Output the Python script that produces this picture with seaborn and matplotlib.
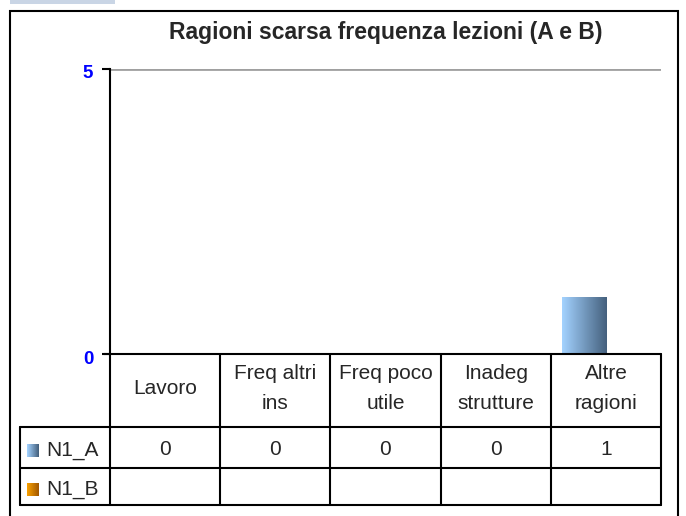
import numpy as np
import pandas as pd
import matplotlib
matplotlib.use("Agg")
import matplotlib.pyplot as plt
import matplotlib.transforms as mtrans
import seaborn as sns
from matplotlib.lines import Line2D
from matplotlib.patches import Rectangle

categories = ["Lavoro", "Freq altri\nins", "Freq poco\nutile", "Inadeg\nstrutture", "Altre\nragioni"]
series = ["N1_A", "N1_B"]
n1_a = [0, 0, 0, 0, 1]
n1_b = [None, None, None, None, None]
title = "Ragioni scarsa frequenza lezioni (A e B)"

grad_a = ["#a3d2ff", "#45617e"]
grad_b = ["#f7a000", "#a35800"]

sns.set_theme(style="white")
plt.rcParams["font.family"] = ["Liberation Sans", "DejaVu Sans"]

W, H = 686, 516
fig = plt.figure(figsize=(W / 100, H / 100), dpi=100)

# pixel helpers (top-left origin)
def fx(x):
    return x / W

def fy(y):
    return 1 - y / H

x0, x1 = 110, 661
y_top, y_zero = 69, 354
ax = fig.add_axes([fx(x0), fy(y_zero), fx(x1) - fx(x0), fy(y_top) - fy(y_zero)])

df = pd.DataFrame({
    "cat": categories * 2,
    "serie": ["N1_A"] * 5 + ["N1_B"] * 5,
    "val": [v for v in n1_a] + [np.nan if v is None else v for v in n1_b],
})
sns.barplot(data=df, x="cat", y="val", hue="serie", hue_order=series,
            order=categories, palette=[grad_a[0], grad_b[0]], width=0.8,
            saturation=1, legend=False, ax=ax, errorbar=None)

# horizontal gradient on each bar
for bar in ax.patches:
    h = bar.get_height()
    if not np.isfinite(h) or h <= 0:
        continue
    col = grad_a if abs(bar.get_facecolor()[0] - matplotlib.colors.to_rgb(grad_a[0])[0]) < 0.05 else grad_b
    cmap = matplotlib.colors.LinearSegmentedColormap.from_list("g", col)
    bx, bw = bar.get_x(), bar.get_width()
    im = ax.imshow(np.linspace(0, 1, 64).reshape(1, -1), cmap=cmap, aspect="auto",
                   extent=[bx, bx + bw, 0, h], zorder=3)
    im.set_clip_path(bar)
    bar.set_edgecolor("none")

ax.set_xlim(-0.5, len(categories) - 0.5)
ax.set_ylim(0, 5)
ax.set_yticks([0, 5])
ax.set_yticklabels(["0", "5"], color="#0000ff", fontweight="bold", fontsize=13.5)
ax.set_xticks([])
ax.set_xlabel("")
ax.set_ylabel("")
ax.tick_params(axis="y", direction="out", length=6, width=1.5, color="black", left=True, pad=6)
ax.axhline(5, color="#a0a0a0", lw=2, zorder=1)
for s in ["top", "right", "bottom"]:
    ax.spines[s].set_visible(False)
ax.spines["left"].set_color("black")
ax.spines["left"].set_linewidth(1.5)
shift = mtrans.ScaledTranslation(0, -3 / 100, fig.dpi_scale_trans)
for lab in ax.yaxis.get_ticklabels():
    lab.set_transform(lab.get_transform() + shift)

fig.text(fx(386), fy(33), title, ha="center", va="center", fontsize=16.5, fontweight="bold")

# outer frame and top strip
fig.add_artist(Rectangle((fx(10), fy(530)), fx(678) - fx(10), fy(11) - fy(530),
                         fill=False, ec="black", lw=1.5, transform=fig.transFigure))
fig.add_artist(Rectangle((fx(10), fy(4)), fx(115) - fx(10), fy(0) - fy(4),
                         fc="#c9d5e5", ec="none", transform=fig.transFigure))

# data table under the axis
col_x = [x0 + i * (x1 - x0) / len(categories) for i in range(len(categories) + 1)]
y_head, y_ra, y_rb = 427, 468, 505
left_x = 20

def hline(xa, xb, y):
    fig.add_artist(Line2D([fx(xa), fx(xb)], [fy(y), fy(y)], color="black", lw=1.5,
                          transform=fig.transFigure))

def vline(x, ya, yb):
    fig.add_artist(Line2D([fx(x), fx(x)], [fy(ya), fy(yb)], color="black", lw=1.5,
                          transform=fig.transFigure))

hline(104, x1, y_zero)
hline(left_x, x1, y_head)
hline(left_x, x1, y_ra)
hline(left_x, x1, y_rb)
vline(left_x, y_head, y_rb)
for cx in col_x:
    vline(cx, y_zero, y_rb)

tsize = 15
for i, cat in enumerate(categories):
    cx = (col_x[i] + col_x[i + 1]) / 2
    fig.text(fx(cx), fy((y_zero + y_head) / 2 - 2), cat, ha="center", va="center",
             fontsize=tsize, linespacing=1.68)
    fig.text(fx(cx), fy((y_head + y_ra) / 2 + 2), "" if n1_a[i] is None else str(n1_a[i]),
             ha="center", va="center", fontsize=tsize)
    fig.text(fx(cx), fy((y_ra + y_rb) / 2 + 2), "" if n1_b[i] is None else str(n1_b[i]),
             ha="center", va="center", fontsize=tsize)

for name, grad, (ya, yb) in [(series[0], grad_a, (y_head, y_ra)), (series[1], grad_b, (y_ra, y_rb))]:
    yc = (ya + yb) / 2 + 3
    sq = fig.add_axes([fx(27), fy(yc + 6.5), fx(39) - fx(27), fy(yc - 6.5) - fy(yc + 6.5)])
    sq.imshow(np.linspace(0, 1, 16).reshape(1, -1),
              cmap=matplotlib.colors.LinearSegmentedColormap.from_list("s", grad), aspect="auto")
    sq.axis("off")
    fig.text(fx(46), fy(yc), name, ha="left", va="center", fontsize=tsize)

fig.savefig("out.png", dpi=100)
